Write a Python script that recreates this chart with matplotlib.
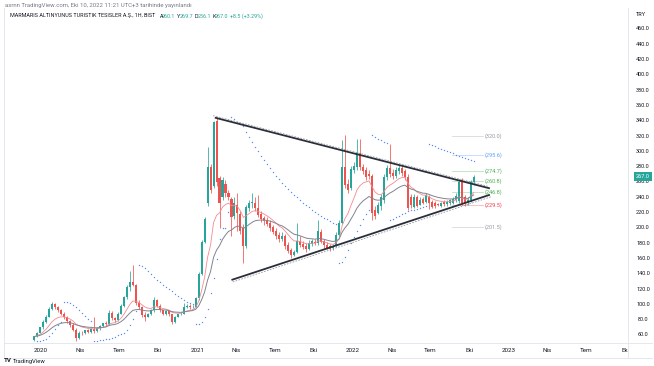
import matplotlib
matplotlib.use('Agg')
import matplotlib.pyplot as plt
import matplotlib.dates as mdates
import matplotlib.transforms as mtransforms
import numpy as np
import pandas as pd

plt.rcParams['font.family'] = ['Roboto', 'DejaVu Sans']

# ---------------- data (weekly candles) ----------------
START = '2019-12-16'
opens = [54, 58, 63, 70, 77, 84, 94, 100, 96, 92,
         88, 83, 78, 73, 67, 56, 63, 62, 66, 64,
         68, 65, 69, 72, 75, 74, 89, 82, 79, 88,
         98, 109, 123, 129, 125, 102, 96, 86, 84, 88,
         92, 106, 98, 92, 88, 91, 87, 77, 84, 87,
         88, 96, 98, 96, 97, 108, 140, 182, 232, 280,
         255, 340, 265, 240, 258, 246, 238, 216, 230, 218,
         200, 176, 226, 232, 233, 226, 218, 213, 210, 206,
         201, 196, 191, 185, 189, 178, 171, 165, 169, 183,
         179, 176, 173, 179, 182, 180, 195, 183, 178, 176,
         174, 176, 191, 207, 280, 258, 252, 276, 279, 298,
         280, 276, 270, 268, 224, 220, 228, 236, 266, 278,
         272, 268, 274, 278, 274, 267, 240, 227, 240, 230,
         238, 234, 240, 234, 233, 231, 229, 234, 231, 232,
         233, 236, 235, 262, 240, 232, 236, 260.1]
highs = [59, 64, 71, 79, 86, 96, 103, 102, 98, 94,
         90, 85, 80, 75, 69, 65, 65, 67, 68, 69,
         84, 70, 73, 76, 78, 92, 91, 84, 90, 100,
         111, 125, 143, 151, 127, 106, 98, 90, 89, 94,
         109, 107, 100, 93, 92, 92, 88, 85, 88, 90,
         102, 100, 101, 99, 110, 142, 184, 214, 306, 284,
         340, 345, 268, 266, 262, 250, 240, 240, 245, 222,
         205, 230, 236, 246, 240, 243, 222, 216, 214, 210,
         204, 200, 194, 194, 192, 181, 174, 171, 206, 190,
         183, 180, 184, 186, 185, 210, 198, 186, 181, 179,
         179, 194, 210, 315, 321, 264, 281, 286, 316, 316,
         283, 280, 276, 271, 228, 234, 244, 270, 282, 310,
         277, 279, 282, 281, 277, 270, 244, 244, 243, 240,
         241, 246, 243, 236, 235, 233, 234, 236, 236, 238,
         240, 246, 264, 265, 243, 240, 262, 269.7]
lows = [52, 57, 62, 68, 75, 83, 92, 94, 90, 86,
        81, 76, 71, 65, 52, 55, 60, 61, 63, 63,
        63, 64, 67, 70, 72, 73, 80, 77, 78, 87,
        97, 107, 118, 124, 99, 94, 84, 78, 83, 86,
        90, 96, 90, 86, 86, 85, 74, 76, 83, 86,
        87, 95, 94, 95, 96, 106, 138, 180, 228, 246,
        252, 255, 200, 236, 240, 236, 190, 212, 196, 192,
        154, 174, 222, 226, 222, 214, 208, 204, 202, 196,
        192, 186, 182, 183, 173, 167, 161, 163, 167, 175,
        172, 169, 171, 176, 177, 178, 180, 174, 172, 170,
        171, 175, 189, 205, 252, 245, 250, 272, 275, 276,
        270, 262, 264, 210, 212, 218, 224, 232, 262, 266,
        264, 265, 270, 268, 262, 223, 226, 226, 227.5, 229.5,
        231, 233, 225, 226, 226, 228, 227, 229, 229, 230,
        231, 234, 233, 230, 229, 230, 234, 256.1]
closes = [58, 63, 70, 77, 84, 94, 100, 96, 92, 88,
          83, 78, 73, 67, 56, 63, 62, 66, 64, 68,
          65, 69, 72, 75, 74, 89, 82, 79, 88, 98,
          109, 123, 129, 125, 102, 96, 86, 84, 88, 92,
          106, 98, 92, 88, 91, 87, 77, 84, 87, 88,
          96, 98, 96, 97, 108, 140, 182, 212, 280, 250,
          338, 260, 233, 262, 246, 240, 214, 232, 220, 196,
          176, 227, 232, 234, 226, 217, 212, 209, 205, 200,
          195, 190, 185, 190, 176, 170, 165, 168, 183, 178,
          175, 172, 180, 183, 180, 196, 182, 177, 174, 173,
          176, 191, 207, 280, 256, 250, 277, 281, 298, 280,
          274, 266, 268, 220, 216, 230, 240, 266, 278, 270,
          268, 275, 278, 272, 266, 226, 230, 240, 229, 236,
          233, 243, 232, 227, 229, 230, 232, 231, 234, 236,
          238, 242, 260, 232, 232, 236, 260, 267.0]

# triangle trend lines (date, price)
upper_dates = ['2021-02-11', '2022-11-17']
upper_prices = [344.1, 251.6]
lower_dates = ['2021-03-22', '2022-11-17']
lower_prices = [131.9, 243.3]

# horizontal levels on the right
level_values = [320.0, 295.6, 274.7, 260.8, 246.8, 229.5, 201.5]
level_colors = ['#9598a1', '#5b9cf6', '#4caf50', '#4caf50', '#4caf50', '#f23645', '#9598a1']
level_span = ['2022-08-20', '2022-11-01']

price_ticks = list(range(60, 461, 20))
time_tick_dates = ['2020-01-01', '2020-04-01', '2020-07-01', '2020-10-01',
                   '2021-01-01', '2021-04-01', '2021-07-01', '2021-10-01',
                   '2022-01-01', '2022-04-01', '2022-07-01', '2022-10-01',
                   '2023-01-01', '2023-04-01', '2023-07-01', '2023-10-01']
time_tick_labels = ['2020', 'Nis', 'Tem', 'Eki', '2021', 'Nis', 'Tem', 'Eki',
                    '2022', 'Nis', 'Tem', 'Eki', '2023', 'Nis', 'Tem', 'Eki']

header_title = 'MARMARIS ALTINYUNUS TURISTIK TESISLER A.Ş., 1H, BIST'
ohlc_letters = ['A', 'Y', 'D', 'K']
ohlc_values = ['260.1', '269.7', '256.1', '267.0']
change_text = '+8.5 (+3.29%)'
last_price = 267.0

GREEN = '#26a69a'
RED = '#ef5350'
TXT = '#131722'
SEP = '#e0e3eb'

# ---------------- helpers ----------------
def psar(h, l, step=0.02, mx=0.2):
    n = len(h)
    out = np.full(n, np.nan)
    up = True
    af = step
    ep = h[0]
    sar = l[0]
    for i in range(1, n):
        sar = sar + af * (ep - sar)
        if up:
            sar = min(sar, l[i - 1], l[i - 2] if i > 1 else l[i - 1])
            if l[i] < sar:
                up = False
                sar = ep
                ep = l[i]
                af = step
            elif h[i] > ep:
                ep = h[i]
                af = min(af + step, mx)
        else:
            sar = max(sar, h[i - 1], h[i - 2] if i > 1 else h[i - 1])
            if h[i] > sar:
                up = True
                sar = ep
                ep = h[i]
                af = step
            elif l[i] < ep:
                ep = l[i]
                af = min(af + step, mx)
        out[i] = sar
    return out

W, H = 654, 366
fig = plt.figure(figsize=(W / 100, H / 100), dpi=100)
fig.patch.set_facecolor('white')

def fx(px):
    return px / W

def fy(py):
    return 1 - py / H

# main chart axes: x 4..628, y 25..343 (pixels from top)
ax = fig.add_axes([fx(4), fy(343), fx(624), 318 / H])
for s in ax.spines.values():
    s.set_visible(False)
ax.set_xticks([])
ax.set_yticks([])

dates = pd.date_range(START, periods=len(closes), freq='7D')
xd = mdates.date2num(dates.to_pydatetime())
o = np.array(opens, float)
h = np.array(highs, float)
l = np.array(lows, float)
c = np.array(closes, float)

x0 = mdates.date2num(pd.Timestamp('2020-01-01').to_pydatetime())
ax.set_xlim(x0 - 86.6, x0 + 1374.4)
ax.set_ylim(49.5, 465.2)

cols = np.where(c >= o, GREEN, RED)
ax.vlines(xd, l, h, colors=cols, lw=0.55, zorder=3)
body_h = np.where(np.abs(c - o) < 0.8, 0.8, c - o)
ax.bar(xd, body_h, bottom=o, width=4.8, color=cols, linewidth=0, zorder=4)

# moving averages
ema_fast = pd.Series(c).ewm(span=10, adjust=False).mean().values
ema_slow = pd.Series(c).ewm(span=20, adjust=False).mean().values
ax.plot(xd, ema_fast, color='#f48a8f', lw=0.6, zorder=5)
ax.plot(xd, ema_slow, color='#808490', lw=0.7, zorder=5)

# parabolic SAR
sar = psar(h, l)
ax.plot(xd[1:], sar[1:], ls='none', marker='o', ms=1.0, mew=0,
        color='#5b8def', zorder=5)

# trend lines
ud = mdates.date2num(pd.to_datetime(upper_dates).to_pydatetime())
ld = mdates.date2num(pd.to_datetime(lower_dates).to_pydatetime())
ax.plot(ud, upper_prices, color='#2a2e39', lw=1.3, zorder=6, solid_capstyle='butt')
ax.plot(ld, lower_prices, color='#2a2e39', lw=1.3, zorder=6, solid_capstyle='butt')
ax.plot(ud - 4, np.array(upper_prices) + 2.6, color='#9598a1', lw=0.6,
        dashes=(2, 1.6), zorder=6)
ax.plot(ld + 3, np.array(lower_prices) - 2.6, color='#9598a1', lw=0.6,
        dashes=(2, 1.6), zorder=6)

# level lines
lv = mdates.date2num(pd.to_datetime(level_span).to_pydatetime())
for v, col in zip(level_values, level_colors):
    ax.plot(lv, [v, v], color=col, lw=0.5, alpha=0.45, zorder=2)
    ax.text(lv[1] + 4, v, '(%.1f)' % v, color=col, fontsize=4.0,
            va='center', ha='left', zorder=7)

# separators / border
fig.add_artist(plt.Line2D([fx(628), fx(628)], [fy(8), fy(358)], color=SEP, lw=0.6))
fig.add_artist(plt.Line2D([fx(4), fx(652)], [fy(343), fy(343)], color=SEP, lw=0.6))
fig.add_artist(plt.Line2D([fx(4), fx(652)], [fy(358), fy(358)], color=SEP, lw=0.6))
fig.add_artist(plt.Line2D([fx(4), fx(4)], [fy(8), fy(358)], color=SEP, lw=0.6))

# price axis labels
tr = mtransforms.blended_transform_factory(fig.transFigure, ax.transData)
for p in price_ticks:
    ax.text(fx(643), p, '%.1f' % p, transform=tr, fontsize=4.0, color=TXT,
            ha='center', va='center', clip_on=False)
ax.text(fx(643), last_price, '%.1f' % last_price, transform=tr, fontsize=4.0,
        color='white', ha='center', va='center', clip_on=False, zorder=10,
        bbox=dict(boxstyle='square,pad=0.3', fc=GREEN, ec='none'))
fig.text(fx(641), fy(14), 'TRY', fontsize=4.0, color=TXT, ha='center', va='center')

# time axis labels (clipped strip)
tax = fig.add_axes([fx(4), fy(357), fx(624), 14 / H], sharex=ax)
tax.set_ylim(0, 1)
tax.axis('off')
for d, lab in zip(time_tick_dates, time_tick_labels):
    xv = mdates.date2num(pd.Timestamp(d).to_pydatetime())
    tax.text(xv, 0.5, lab, fontsize=4.5, color=TXT, ha='center', va='center',
             clip_on=True)

# header
fig.text(fx(5), fy(5), 'asrnn TradingView.com, Eki 10, 2022 11:21 UTC+3 tarihinde yayınlandı',
         fontsize=4.3, color='#787b86', va='center', ha='left')
t = fig.text(fx(10), fy(16), header_title, fontsize=3.9, color=TXT,
             va='center', ha='left')
pieces = []
for k, (let, val) in enumerate(zip(ohlc_letters, ohlc_values)):
    pieces.append(((3.0 if k == 0 else 1.2), let, TXT))
    pieces.append((-0.7, val, GREEN))
pieces.append((1.2, change_text, GREEN))
prev = t
for gap, s, col in pieces:
    prev = ax.annotate(s, xy=(1, 0.5), xycoords=prev, xytext=(gap, 0),
                       textcoords='offset points', ha='left', va='center',
                       fontsize=3.9, color=col, annotation_clip=False)

# footer logo
fig.text(fx(4), fy(361), 'TV', fontsize=4.4, fontweight='bold', color=TXT,
         va='center', ha='left')
fig.text(fx(13), fy(361), 'TradingView', fontsize=4.2, color=TXT, va='center', ha='left')

fig.savefig('out.png', dpi=100, facecolor='white')
